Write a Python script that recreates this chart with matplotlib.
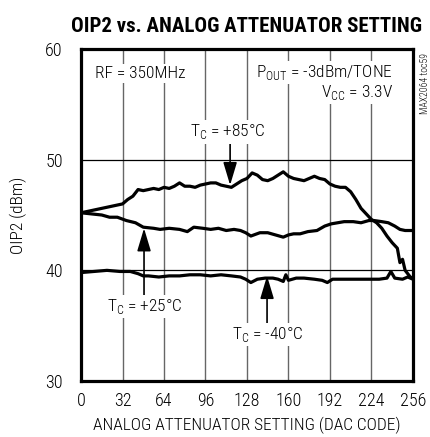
import matplotlib
matplotlib.use('Agg')
import matplotlib.pyplot as plt

plt.rcParams['font.family'] = ['Roboto Condensed', 'Archivo Narrow', 'DejaVu Sans']
plt.rcParams['font.weight'] = 'light'
plt.rcParams['axes.labelweight'] = 'light'

# DAC code vs OIP2 (dBm)
dac_85 = [0, 4, 8, 12, 16, 20, 24, 28, 32, 36, 40, 44, 48, 52, 56, 60, 64, 68,
          72, 76, 80, 84, 88, 92, 96, 100, 104, 108, 112, 116, 120, 124, 128,
          132, 136, 140, 144, 148, 152, 156, 160, 164, 168, 172, 176, 180, 184,
          188, 192, 196, 200, 204, 208, 212, 216, 220, 224, 228, 232, 236, 240,
          244, 246, 248, 250, 252, 254, 256]
oip2_85 = [45.2, 45.3, 45.4, 45.5, 45.6, 45.7, 45.8, 45.9, 46.0, 46.4, 46.7,
           47.3, 47.2, 47.3, 47.4, 47.3, 47.5, 47.4, 47.6, 47.9, 47.6, 47.6,
           47.5, 47.7, 47.8, 47.9, 47.9, 47.7, 47.6, 47.5, 47.8, 48.1, 48.3,
           48.8, 48.6, 48.2, 48.1, 48.3, 48.6, 48.9, 48.5, 48.3, 48.2, 48.1,
           48.3, 48.5, 48.3, 48.2, 47.8, 47.6, 47.5, 47.5, 47.1, 46.4, 45.6,
           45.1, 44.6, 44.3, 43.8, 43.1, 42.5, 42.0, 40.7, 41.0, 40.0, 39.7,
           39.4, 39.3]

dac_25 = [0, 8, 16, 22, 28, 35, 42, 48, 56, 61, 68, 76, 82, 87, 94, 100, 106,
          112, 118, 123, 127, 131, 138, 144, 150, 156, 160, 164, 169, 175, 182,
          188, 193, 198, 203, 210, 216, 222, 226, 232, 237, 242, 246, 250, 256]
oip2_25 = [45.2, 45.1, 45.0, 44.8, 44.8, 44.5, 44.3, 43.9, 43.8, 43.7, 43.8,
           43.7, 43.5, 43.9, 43.8, 43.7, 43.8, 43.6, 43.7, 43.6, 43.4, 43.1,
           43.4, 43.4, 43.2, 43.0, 43.2, 43.3, 43.3, 43.5, 43.6, 44.0, 44.2,
           44.3, 44.4, 44.4, 44.3, 44.5, 44.5, 44.4, 44.3, 44.0, 43.7, 43.6,
           43.6]

dac_m40 = [0, 10, 20, 30, 38, 44, 48, 52, 60, 68, 76, 84, 92, 100, 108, 116,
           123, 127, 131, 136, 142, 148, 152, 156, 158, 160, 166, 172, 180, 186,
           190, 194, 200, 210, 220, 230, 236, 239, 242, 248, 252, 256]
oip2_m40 = [39.8, 39.9, 40.0, 39.9, 39.9, 39.7, 39.5, 39.5, 39.4, 39.5, 39.5,
            39.6, 39.6, 39.5, 39.6, 39.5, 39.4, 39.2, 38.9, 39.2, 39.3, 39.3,
            39.2, 39.0, 39.6, 39.1, 39.3, 39.3, 39.2, 39.1, 38.9, 39.2, 39.2,
            39.2, 39.2, 39.2, 39.3, 39.9, 39.3, 39.2, 39.4, 39.2]

x_ticks = [0, 32, 64, 96, 128, 160, 192, 224, 256]
y_ticks = [30, 40, 50, 60]

fig = plt.figure(figsize=(4.31, 4.37), dpi=100)
ax = fig.add_axes([0.188, 0.128, 0.770, 0.760])

for x, y in [(dac_85, oip2_85), (dac_25, oip2_25), (dac_m40, oip2_m40)]:
    ax.plot(x, y, color='black', lw=2.3, zorder=3)

ax.set_xlim(0, 256)
ax.set_ylim(30, 60)
ax.set_xticks(x_ticks)
ax.set_yticks(y_ticks)
ax.tick_params(length=0, labelsize=13)
ax.tick_params(axis='x', pad=8)
ax.tick_params(axis='y', pad=13)
for xv in x_ticks[1:-1]:
    ax.axvline(xv, color='#666666', lw=1.0, zorder=1)
for yv in [40, 50]:
    ax.axhline(yv, color='black', lw=0.9, zorder=1)
for s in ax.spines.values():
    s.set_linewidth(2.3)

ax.set_xlabel('ANALOG ATTENUATOR SETTING (DAC CODE)', fontsize=12.5, labelpad=5)
ax.set_ylabel('OIP2 (dBm)', fontsize=12.5, labelpad=13)
ax.set_title('OIP2 vs. ANALOG ATTENUATOR SETTING', fontsize=15,
             fontweight='bold', pad=12)

box = dict(facecolor='white', edgecolor='none', pad=1.5)
ax.text(10.8, 57.8, 'RF = 350MHz', fontsize=12.5, va='center', ha='left',
        bbox=box, zorder=4)
ax.text(240.6, 57.9, r'P$_\mathregular{OUT}$ = -3dBm/TONE', fontsize=12.5,
        va='center', ha='right', bbox=box, zorder=4)
ax.text(240.6, 56.1, r'V$_\mathregular{CC}$ = 3.3V', fontsize=12.5,
        va='center', ha='right', bbox=box, zorder=4)

arrow = dict(arrowstyle='-|>,head_width=0.3,head_length=1.0', color='black',
             lw=1.2, mutation_scale=14, shrinkA=0, shrinkB=0)
ax.text(113, 52.5, r'T$_\mathregular{C}$ = +85°C', fontsize=12.5,
        va='center', ha='center', bbox=box, zorder=4)
ax.annotate('', xy=(115, 47.7), xytext=(115, 51.7), arrowprops=arrow)
ax.text(49, 36.7, r'T$_\mathregular{C}$ = +25°C', fontsize=12.5,
        va='center', ha='center', bbox=box, zorder=4)
ax.annotate('', xy=(48.6, 43.8), xytext=(48.6, 37.6), arrowprops=arrow)
ax.text(144, 34.2, r'T$_\mathregular{C}$ = -40°C', fontsize=12.5,
        va='center', ha='center', bbox=box, zorder=4)
ax.annotate('', xy=(143.5, 39.5), xytext=(143.5, 35.1), arrowprops=arrow)

fig.text(0.986, 0.81, 'MAX2064 toc59', fontsize=7, rotation=90,
         ha='center', va='center')

fig.savefig('out.png', dpi=100)
